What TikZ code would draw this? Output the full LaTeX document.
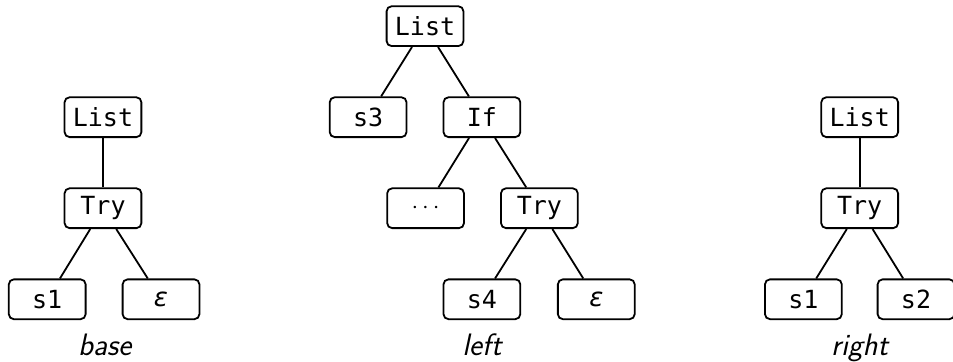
\documentclass[tikz,border=0pt]{standalone}
\usepackage{fontspec}
\setmonofont{DejaVu Sans Mono}
\newfontfamily\greekfont{DejaVu Sans}

% slanted epsilon for the empty leaves
\newcommand{\eps}{{\greekfont\itshape\fontsize{13}{15}\selectfont ε}}

\begin{document}
\begin{tikzpicture}[
    box/.style={draw, line width=0.9pt, rounded corners=2.5pt,
        minimum width=1.35cm, minimum height=0.7cm, inner sep=0pt,
        font=\fontsize{12.5}{15}\selectfont\ttfamily},
    edge/.style={line width=0.9pt},
    caption/.style={anchor=base, font=\fontsize{15.5}{18}\selectfont\sffamily\itshape}
]

    \useasboundingbox (0, 0) rectangle (16.75, 6.36);

    %% Three small syntax trees side by side

    % Tree: base
    \node[box] (bList) at (1.81, 4.30) {List};
    \node[box] (bTry) at (1.81, 2.70) {Try};
    \node[box] (bS1) at (0.83, 1.10) {s1};
    \node[box] (bEps) at (2.83, 1.10) {\eps};

    \draw[edge] (bList) -- (bTry);
    \draw[edge] (bTry) -- (bS1);
    \draw[edge] (bTry) -- (bEps);

    % Tree: left
    \node[box] (lList) at (7.47, 5.90) {List};
    \node[box] (lS3) at (6.47, 4.30) {s3};
    \node[box] (lIf) at (8.47, 4.30) {If};
    \node[box] (lDots) at (7.48, 2.70) {$\cdots$};
    \node[box] (lTry) at (9.48, 2.70) {Try};
    \node[box] (lS4) at (8.47, 1.10) {s4};
    \node[box] (lEps) at (10.48, 1.10) {\eps};

    \draw[edge] (lList) -- (lS3);
    \draw[edge] (lList) -- (lIf);
    \draw[edge] (lIf) -- (lDots);
    \draw[edge] (lIf) -- (lTry);
    \draw[edge] (lTry) -- (lS4);
    \draw[edge] (lTry) -- (lEps);

    % Tree: right
    \node[box] (rList) at (15.11, 4.30) {List};
    \node[box] (rTry) at (15.11, 2.70) {Try};
    \node[box] (rS1) at (14.12, 1.10) {s1};
    \node[box] (rS2) at (16.10, 1.10) {s2};

    \draw[edge] (rList) -- (rTry);
    \draw[edge] (rTry) -- (rS1);
    \draw[edge] (rTry) -- (rS2);

    % Labels
    \node[caption] (bLabel) at (1.84, 0.12) {base};
    \node[caption] (lLabel) at (8.47, 0.12) {left};
    \node[caption] (rLabel) at (15.11, 0.12) {right};

\end{tikzpicture}
\end{document}
